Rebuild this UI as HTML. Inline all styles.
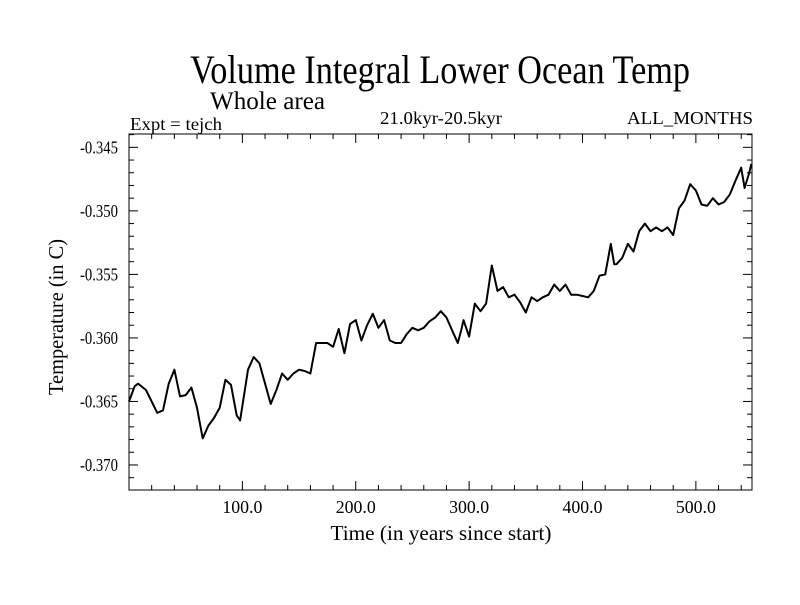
<!DOCTYPE html>
<html><head><meta charset="utf-8"><style>
html,body{margin:0;padding:0;background:#fff;}
svg text{font-family:"Liberation Serif",serif;fill:#000;}
</style></head><body>
<svg id="chart" width="800" height="600" xmlns="http://www.w3.org/2000/svg">
<text x="190" y="83" font-size="40" textLength="500" lengthAdjust="spacingAndGlyphs">Volume Integral Lower Ocean Temp</text>
<text x="210" y="109" font-size="25" textLength="115" lengthAdjust="spacingAndGlyphs">Whole area</text>
<text x="130" y="130" font-size="18" textLength="92" lengthAdjust="spacingAndGlyphs">Expt = tejch</text>
<text x="380" y="124" font-size="18" textLength="122" lengthAdjust="spacingAndGlyphs">21.0kyr-20.5kyr</text>
<text x="627" y="124" font-size="18" textLength="126" lengthAdjust="spacingAndGlyphs">ALL_MONTHS</text>
<text transform="translate(63,317) rotate(-90)" text-anchor="middle" font-size="21" textLength="156" lengthAdjust="spacingAndGlyphs">Temperature (in C)</text>
<text x="441" y="540" text-anchor="middle" font-size="21" textLength="221" lengthAdjust="spacingAndGlyphs">Time (in years since start)</text>
<g id="axes"></g>
<g id="series"></g>
</svg>
<script>
const years=[0,5,8,15,25,30,35,40,45,50,55,60,65,70,75,80,85,90,95,98,105,110,115,120,125,130,135,140,145,150,155,160,165,170,175,180,185,190,195,200,205,210,215,220,225,230,235,240,245,250,255,260,265,270,275,280,285,290,293,295,300,305,310,315,320,325,330,335,340,345,350,355,360,365,370,375,380,385,390,395,400,405,410,415,420,425,428,430,435,440,445,450,455,460,465,470,475,480,485,490,495,500,505,510,515,520,525,530,535,540,543,547,549];
const temps=[-0.3650,-0.3638,-0.3636,-0.3641,-0.3659,-0.3657,-0.3636,-0.3625,-0.3646,-0.3645,-0.3639,-0.3655,-0.3679,-0.3669,-0.3663,-0.3655,-0.3633,-0.3637,-0.3661,-0.3665,-0.3625,-0.3615,-0.3620,-0.3636,-0.3652,-0.3641,-0.3628,-0.3633,-0.3628,-0.3625,-0.3626,-0.3628,-0.3604,-0.3604,-0.3604,-0.3607,-0.3593,-0.3612,-0.3589,-0.3586,-0.3602,-0.3590,-0.3581,-0.3592,-0.3586,-0.3602,-0.3604,-0.3604,-0.3597,-0.3592,-0.3594,-0.3592,-0.3587,-0.3584,-0.3579,-0.3584,-0.3594,-0.3604,-0.3594,-0.3586,-0.3599,-0.3573,-0.3579,-0.3573,-0.3543,-0.3563,-0.3560,-0.3568,-0.3566,-0.3572,-0.3580,-0.3568,-0.3571,-0.3568,-0.3566,-0.3558,-0.3563,-0.3558,-0.3566,-0.3566,-0.3567,-0.3568,-0.3563,-0.3551,-0.3550,-0.3526,-0.3542,-0.3542,-0.3537,-0.3526,-0.3532,-0.3516,-0.3510,-0.3516,-0.3513,-0.3516,-0.3513,-0.3519,-0.3498,-0.3492,-0.3479,-0.3484,-0.3495,-0.3496,-0.3490,-0.3495,-0.3493,-0.3487,-0.3476,-0.3466,-0.3482,-0.3470,-0.3463];
const xTicks=[100,200,300,400,500];
const xTickLabels=["100.0","200.0","300.0","400.0","500.0"];
const yTicks=[-0.345,-0.350,-0.355,-0.360,-0.365,-0.370];
const yTickLabels=["-0.345","-0.350","-0.355","-0.360","-0.365","-0.370"];
const L=129,R=752,T=134,B=490;
const X0=0,X1=549.5,Y0=-0.37197,Y1=-0.34395;
const sx=v=>L+(v-X0)/(X1-X0)*(R-L);
const sy=v=>B-(v-Y0)/(Y1-Y0)*(B-T);
const NS="http://www.w3.org/2000/svg";
const axes=document.getElementById('axes');
function mk(t,a,p){const e=document.createElementNS(NS,t);for(const k in a)e.setAttribute(k,a[k]);p.appendChild(e);return e;}
const frame=mk('rect',{x:L,y:T,width:R-L,height:B-T,fill:'none',stroke:'#000','stroke-width':1},axes);


for(let v=20;v<X1;v+=20){const x=sx(v);const major=v%100===0;const len=major?9:5;
 const t1=mk('line',{x1:x,x2:x,y1:B,y2:B-len,stroke:'#000'},axes);
 
 
 const t2=mk('line',{x1:x,x2:x,y1:T,y2:T+len,stroke:'#000'},axes);
 
 }
xTicks.forEach((v,i)=>{const t=mk('text',{x:sx(v),y:513,'text-anchor':'middle','font-size':18,textLength:40,lengthAdjust:'spacingAndGlyphs'},axes);t.textContent=xTickLabels[i];
 
 });
for(let k=-371;k<=-344;k++){const v=k/1000;if(v<Y0||v>Y1)continue;const y=sy(v);const major=k%5===0;const len=major?9:5;
 const t1=mk('line',{x1:L,x2:L+len,y1:y,y2:y,stroke:'#000'},axes);
 
 
 const t2=mk('line',{x1:R,x2:R-len,y1:y,y2:y,stroke:'#000'},axes);
 
 }
yTicks.forEach((v,i)=>{const t=mk('text',{x:118,y:sy(v)+6,'text-anchor':'end','font-size':18,textLength:38,lengthAdjust:'spacingAndGlyphs'},axes);t.textContent=yTickLabels[i];
 
 });
const d=years.map((y,i)=>(i?'L':'M')+sx(y).toFixed(1)+','+sy(temps[i]).toFixed(1)).join(' ');
const line=mk('path',{d:d,fill:'none',stroke:'#000','stroke-width':2,'stroke-linejoin':'round'},document.getElementById('series'));


</script>
</body></html>
